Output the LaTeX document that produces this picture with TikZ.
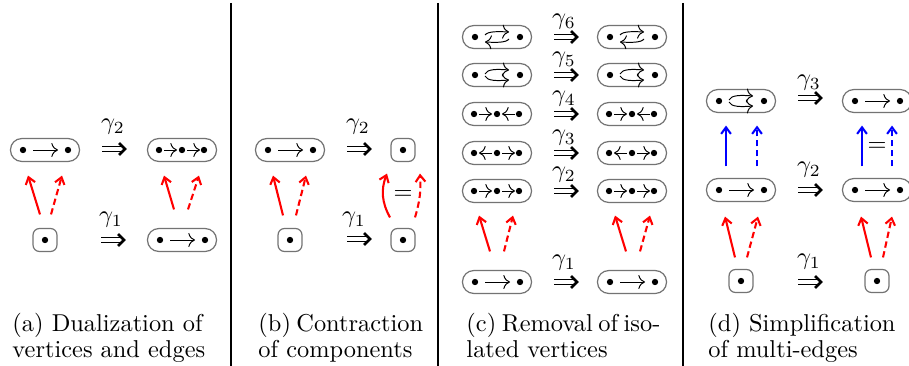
\documentclass[tikz,border=0pt]{standalone}
\usetikzlibrary{calc,arrows.meta}
\begin{document}
\begin{tikzpicture}[x=0.41pt,y=-0.41pt,
  lbox/.style={draw=black!55, line width=0.5pt, rounded corners=4.6pt, minimum width=28.3pt, minimum height=9.4pt, inner sep=0pt},
  sbox/.style={draw=black!55, line width=0.5pt, rounded corners=2.6pt, minimum width=9.8pt, minimum height=9.4pt, inner sep=0pt},
  ina/.style={line width=0.4pt, -{To[scale=1.1]}},
  impline/.style={double, double distance=1.3pt, line width=0.45pt},
  imphead/.style={line width=1.05pt, line join=miter, line cap=butt},
  rs/.style={red, line width=0.85pt, -{Straight Barb[length=2.7pt, width=4pt]}},
  rd/.style={rs, dash pattern=on 2.6pt off 1.5pt},
  bs/.style={blue, line width=0.85pt, -{Straight Barb[length=2.7pt, width=4pt]}},
  bd/.style={bs, dash pattern=on 2.6pt off 1.5pt},
  sep/.style={line width=0.9pt},
  captxt/.style={anchor=base west, inner sep=0pt},
  glab/.style={inner sep=0pt},
  pics/eone/.style={code={\fill (-22,0) circle (1.3pt) (23,0) circle (1.3pt); \draw[ina] (-12,0) -- (13,0);}},
  pics/prr/.style={code={\fill (-23,0) circle (1.3pt) (0,0) circle (1.3pt) (22,0) circle (1.3pt); \draw[ina] (-18,0) -- (-5,0); \draw[ina] (5,0) -- (18,0);}},
  pics/plr/.style={code={\fill (-23,0) circle (1.3pt) (0,0) circle (1.3pt) (22,0) circle (1.3pt); \draw[ina] (-5,0) -- (-18,0); \draw[ina] (5,0) -- (18,0);}},
  pics/prl/.style={code={\fill (-23,0) circle (1.3pt) (0,0) circle (1.3pt) (22,0) circle (1.3pt); \draw[ina] (-18,0) -- (-5,0); \draw[ina] (18,0) -- (5,0);}},
  pics/cyc/.style={code={\fill (-22,0) circle (1.3pt) (23,0) circle (1.3pt);
     \draw[ina] (-12,-2) .. controls (-9,-6) and (2,-5.5) .. (12,-5);
     \draw[ina] (12,2) .. controls (9,6) and (-2,5.5) .. (-12,5);}},
  pics/par/.style={code={\fill (-22,0) circle (1.3pt) (23,0) circle (1.3pt);
     \draw[ina] (-12,-1) .. controls (-10,-6) and (0,-6) .. (12,-5);
     \draw[ina] (-12,1) .. controls (-10,6) and (0,6) .. (12,5);}},
  pics/imp/.style={code={\draw[impline] (-11,0) -- (9,0); \draw[imphead] (6,-6) -- (12,0) -- (6,6);}}
]
\useasboundingbox (0,0) rectangle (909,366);

% separators
\draw[sep] (231,3) -- (231,366);
\draw[sep] (438,3) -- (438,366);
\draw[line width=1.2pt] (683,3) -- (683,366);

% ---------- panel (a)
\node[sbox] (a1) at (45,240) {}; \fill (a1) circle (1.3pt);
\node[lbox] (a2) at (45,150) {}; \pic at (a2) {eone};
\node[lbox] (a3) at (182,150) {}; \pic at (a3) {prr};
\node[lbox] (a4) at (182,240) {}; \pic at (a4) {eone};
\coordinate (ag2) at (113,149); \pic at (ag2) {imp};
\coordinate (ag1) at (112,240); \pic at (ag1) {imp};
\node[glab] at (113,127) {$\gamma_2$};
\node[glab] at (111,220) {$\gamma_1$};
\draw[rs] ($(a1.north)+(-5,-13.5)$) -- ($(a2.south)+(-17,13.5)$);
\draw[rd] ($(a1.north)+(6,-13.5)$) -- ($(a2.south)+(17,13.5)$);
\draw[rs] ($(a4.north)+(-8,-18.5)$) -- ($(a3.south)+(-18,13.5)$);
\draw[rd] ($(a4.north)+(6,-18.5)$) -- ($(a3.south)+(17,13.5)$);

% ---------- panel (b)
\node[sbox] (b1) at (290,240) {}; \fill (b1) circle (1.3pt);
\node[lbox] (b2) at (290,150) {}; \pic at (b2) {eone};
\node[sbox] (b3) at (403,150) {}; \fill (b3) circle (1.3pt);
\node[sbox] (b4) at (403,240) {}; \fill (b4) circle (1.3pt);
\coordinate (bg2) at (358,149); \pic at (bg2) {imp};
\coordinate (bg1) at (358,239); \pic at (bg1) {imp};
\node[glab] at (358,127) {$\gamma_2$};
\node[glab] at (354,220) {$\gamma_1$};
\draw[rs] ($(b1.north)+(-7,-12.5)$) -- ($(b2.south)+(-17,13.5)$);
\draw[rd] ($(b1.north)+(6,-12.5)$) -- ($(b2.south)+(16,13.5)$);
\draw[rs] ($(b4.north)+(-13,-10.5)$) to[bend left=25] ($(b3.south)+(-16,11.5)$);
\draw[rd] ($(b4.north)+(12,-10.5)$) to[bend right=10] ($(b3.south)+(17,11.5)$);
\node[glab] at (403,195) {$=$};

% ---------- panel (c)
\node[lbox] (c6l) at (497,37) {}; \pic at (c6l) {cyc};
\node[lbox] (c6r) at (632,37) {}; \pic at (c6r) {cyc};
\node[lbox] (c5l) at (497,75) {}; \pic at (c5l) {par};
\node[lbox] (c5r) at (632,75) {}; \pic at (c5r) {par};
\node[lbox] (c4l) at (497,114) {}; \pic at (c4l) {prl};
\node[lbox] (c4r) at (632,114) {}; \pic at (c4r) {prl};
\node[lbox] (c3l) at (497,153) {}; \pic at (c3l) {plr};
\node[lbox] (c3r) at (632,153) {}; \pic at (c3r) {plr};
\node[lbox] (c2l) at (497,191) {}; \pic at (c2l) {prr};
\node[lbox] (c2r) at (632,191) {}; \pic at (c2r) {prr};
\node[lbox] (c1l) at (497,282) {}; \pic at (c1l) {eone};
\node[lbox] (c1r) at (632,282) {}; \pic at (c1r) {eone};
\foreach \y/\g/\d in {37/6/15, 75/5/15, 114/4/15, 153/3/15, 191/2/16, 282/1/19}{
  \coordinate (cg) at (565,\y); \pic at (cg) {imp};
  \node[glab] at (564,\y-\d) {$\gamma_\g$};
}
\draw[rs] ($(c1l.north)+(-7,-18.5)$) -- ($(c2l.south)+(-18,12.5)$);
\draw[rd] ($(c1l.north)+(7,-18.5)$) -- ($(c2l.south)+(16,12.5)$);
\draw[rs] ($(c1r.north)+(-6,-18.5)$) -- ($(c2r.south)+(-17,12.5)$);
\draw[rd] ($(c1r.north)+(8,-18.5)$) -- ($(c2r.south)+(18,12.5)$);

% ---------- panel (d)
\node[sbox] (d1l) at (741,281) {}; \fill (d1l) circle (1.3pt);
\node[lbox] (d2l) at (741,190) {}; \pic at (d2l) {eone};
\node[lbox] (d3l) at (741,101) {}; \pic at (d3l) {par};
\node[sbox] (d1r) at (877,281) {}; \fill (d1r) circle (1.3pt);
\node[lbox] (d2r) at (877,190) {}; \pic at (d2r) {eone};
\node[lbox] (d3r) at (877,101) {}; \pic at (d3r) {eone};
\coordinate (dg3) at (809,98); \pic at (dg3) {imp};
\coordinate (dg2) at (809,190); \pic at (dg2) {imp};
\coordinate (dg1) at (809,282); \pic at (dg1) {imp};
\node[glab] at (809,83) {$\gamma_3$};
\node[glab] at (809,170) {$\gamma_2$};
\node[glab] at (809,262) {$\gamma_1$};
\draw[rs] ($(d1l.north)+(-6,-11.5)$) -- ($(d2l.south)+(-16,14.5)$);
\draw[rd] ($(d1l.north)+(6,-11.5)$) -- ($(d2l.south)+(17,14.5)$);
\draw[rs] ($(d1r.north)+(-6,-11.5)$) -- ($(d2r.south)+(-16,14.5)$);
\draw[rd] ($(d1r.north)+(6,-11.5)$) -- ($(d2r.south)+(15,14.5)$);
\draw[bs] ($(d2l.north)+(-15,-11.5)$) -- ($(d3l.south)+(-15,12.5)$);
\draw[bd] ($(d2l.north)+(16,-11.5)$) -- ($(d3l.south)+(16,12.5)$);
\draw[bs] ($(d2r.north)+(-15,-11.5)$) -- ($(d3r.south)+(-15,12.5)$);
\draw[bd] ($(d2r.north)+(15,-11.5)$) -- ($(d3r.south)+(15,12.5)$);
\node[glab] at (877,147) {$=$};

% ---------- captions
\node[captxt] at (12,331) {(a) Dualization of};
\node[captxt] at (12,357) {vertices and edges};
\node[captxt] at (258,331) {\makebox[66.4pt][s]{(b) Contraction}};
\node[captxt] at (258,357) {of components};
\node[captxt] at (466,331) {\makebox[79.5pt][s]{(c) Removal of iso-}};
\node[captxt] at (466,357) {lated vertices};
\node[captxt] at (708,331) {(d) Simplification};
\node[captxt] at (708,357) {of multi-edges};
\end{tikzpicture}
\end{document}
